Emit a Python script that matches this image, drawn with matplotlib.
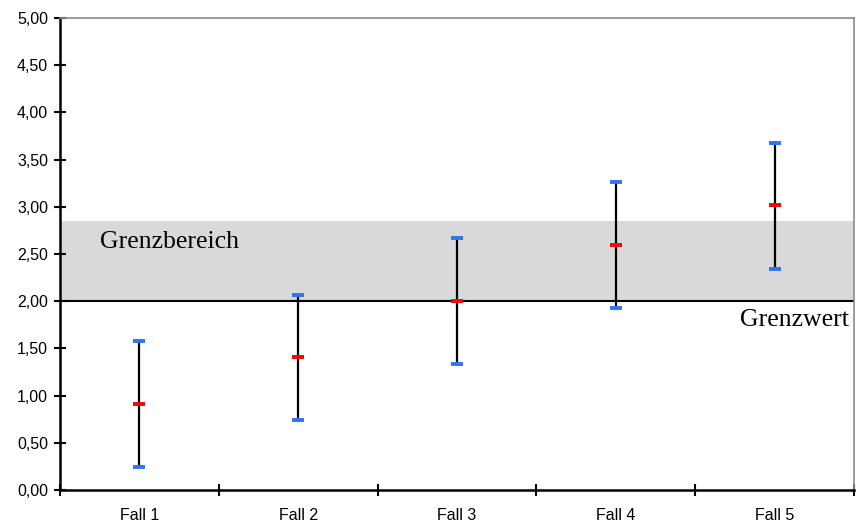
import numpy as np
import matplotlib.pyplot as plt
from matplotlib.ticker import FuncFormatter, FixedLocator

# values
cases = ["Fall 1", "Fall 2", "Fall 3", "Fall 4", "Fall 5"]
upper = [1.58, 2.07, 2.67, 3.26, 3.68]
mean = [0.91, 1.41, 2.00, 2.60, 3.02]
lower = [0.24, 0.74, 1.33, 1.93, 2.34]

LIMIT = 2.0        # Grenzwert
BAND_TOP = 2.85    # upper edge of Grenzbereich

fig = plt.figure(figsize=(8.56, 5.23), dpi=100)
ax = fig.add_axes([60 / 856, 1 - 490 / 523, 794 / 856, 472 / 523])

x = np.arange(len(cases))

# grey band + limit line
ax.axhspan(LIMIT, BAND_TOP, color="#d9d9d9", lw=0, zorder=0)
ax.axhline(LIMIT, color="black", lw=1.5, zorder=1)

# range bars
ax.vlines(x, lower, upper, color="black", lw=1.6, zorder=2)
ax.plot(x, upper, ls="none", marker="_", ms=9, mew=2.8, color="#2f74f2", zorder=3)
ax.plot(x, lower, ls="none", marker="_", ms=9, mew=2.8, color="#2f74f2", zorder=3)
ax.plot(x, mean, ls="none", marker="_", ms=9, mew=2.8, color="#ff0000", zorder=3)

ax.text(-0.25, 2.63, "Grenzbereich", family="Liberation Serif",
        fontsize=18.5, va="center", ha="left")
ax.text(4.47, 1.8, "Grenzwert", family="Liberation Serif",
        fontsize=18.5, va="center", ha="right")

ax.set_xlim(-0.5, len(cases) - 0.5)
ax.set_ylim(0, 5)

ax.set_yticks(np.arange(0, 5.01, 0.5))
ax.yaxis.set_major_formatter(FuncFormatter(lambda v, p: f"{v:.2f}".replace(".", ",")))
ax.xaxis.set_major_locator(FixedLocator(np.arange(-0.5, len(cases), 1.0)))
ax.xaxis.set_minor_locator(FixedLocator(x))
ax.set_xticklabels([])
ax.set_xticklabels(cases, minor=True)

ax.tick_params(axis="y", direction="inout", length=9, width=1.5,
               labelsize=11.5, pad=4, labelfontfamily="Liberation Sans")
ax.tick_params(axis="x", which="major", direction="inout", length=9, width=1.5)
ax.tick_params(axis="x", which="minor", length=0, labelsize=11.5, pad=13,
               labelfontfamily="Liberation Sans")

for side in ["left", "bottom"]:
    ax.spines[side].set_linewidth(1.8)
    ax.spines[side].set_color("black")
for side in ["top", "right"]:
    ax.spines[side].set_linewidth(1.2)
    ax.spines[side].set_color("#8c8c8c")

fig.savefig("out.png", dpi=100)
